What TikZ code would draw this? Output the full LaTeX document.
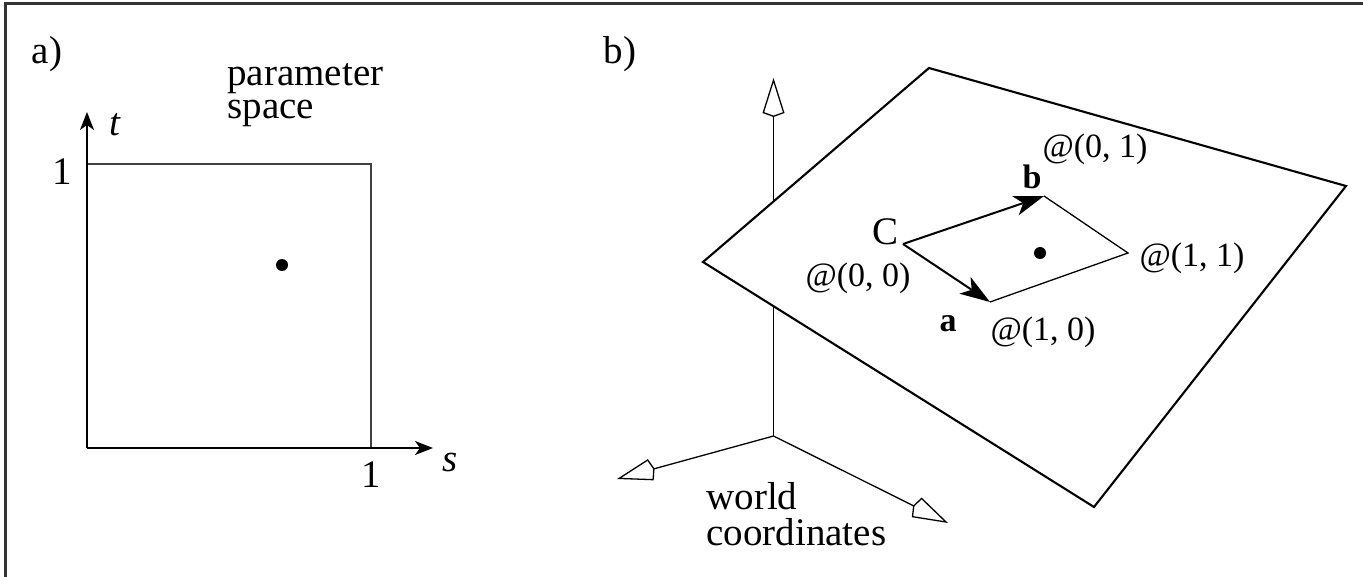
\documentclass[tikz,border=0pt]{standalone}
\usepackage{fontspec}
\setmainfont{Liberation Serif}
\usetikzlibrary{arrows.meta}
\begin{document}
\begin{tikzpicture}[x=0.5pt,y=-0.5pt,
  lbl/.style={font=\fontsize{17}{20}\selectfont, inner sep=0pt},
  txt/.style={font=\fontsize{19.5}{20}\selectfont, inner sep=0pt},
  frameline/.style={line width=1.2pt, draw=black!80},
  sqline/.style={line width=0.7pt, draw=black!75},
  axis2d/.style={line width=0.8pt, -{Stealth[length=9pt,width=7pt,inset=2.5pt]}},
  waxis/.style={line width=0.65pt, -{Kite[open,length=19.5pt,width=11pt,inset=2pt]}},
  planeline/.style={line width=1.05pt, line join=miter, fill=white},
  thinedge/.style={line width=0.65pt},
  vec/.style={line width=1pt, -{Stealth[length=15pt,width=10pt,inset=4pt]}},
  pt/.style={circle, fill=black, inner sep=0pt, minimum size=6pt}]
\useasboundingbox (0,0) rectangle (1363,577);
% frame
\coordinate (F1) at (5.5,577);
\coordinate (F2) at (5.5,3.5);
\coordinate (F3) at (1363,3.5);
\draw[frameline] (F1) -- (F2) -- (F3);

% ---------- a) parameter space ----------
\node[txt] (la) at (47,54) {a)};
\node[txt, align=left, anchor=base west, font=\fontsize{19.5}{16.5}\selectfont] (param) at (227,119) {parameter\\space};
\coordinate (O1) at (87,448);
\coordinate (T) at (87,112);
\coordinate (S) at (433,448);
\coordinate (Q1) at (87,164);
\coordinate (Q2) at (371,164);
\coordinate (Q3) at (371,448);
\draw[sqline] (Q1) -- (Q2) -- (Q3);
\draw[axis2d] (O1) -- (T);
\draw[axis2d] (O1) -- (S);
\node[txt] (onet) at (62,172) {1};
\node[txt] (ones) at (371,475) {1};
\node[txt] (tl) at (115,125) {\textit{t}};
\node[txt] (sl) at (450,462) {\textit{s}};
\node[pt] (dot1) at (282,265) {};

% ---------- b) world coordinates ----------
\node[txt] (lb) at (620,54) {b)};
\coordinate (W) at (773.5,436);
\coordinate (Wz) at (773.5,78);
\coordinate (Wx) at (617,479);
\coordinate (Wy) at (948,523);
\draw[waxis] (W) -- (Wz);
\draw[waxis] (W) -- (Wx);
\draw[waxis] (W) -- (Wy);
\node[txt, align=left, anchor=base west, font=\fontsize{19.5}{18}\selectfont] (world) at (706,545) {world\\coordinates};

\coordinate (P1) at (929,68);
\coordinate (P2) at (1346,186);
\coordinate (P3) at (1094,507);
\coordinate (P4) at (703,262);
\draw[planeline] (P1) -- (P2) -- (P3) -- (P4) -- cycle;

\coordinate (C) at (903,244);
\coordinate (A10) at (990,302);
\coordinate (A11) at (1128,253);
\coordinate (A01) at (1044,196);
\draw[thinedge] (A01) -- (A11) -- (A10);
\draw[vec] (C) -- (A10);
\draw[vec] (C) -- (A01);
\node[pt] (dot2) at (1040,253) {};

\node[txt] (cl) at (885,232) {C};
\node[lbl] (l00) at (858,278) {@(0, 0)};
\node[lbl] (la2) at (948,324) {\textbf{a}};
\node[lbl] (l10) at (1043,332) {@(1, 0)};
\node[lbl] (lb2) at (1032,177) {\textbf{b}};
\node[lbl] (l01) at (1095,149) {@(0, 1)};
\node[lbl] (l11) at (1192,258) {@(1, 1)};
\end{tikzpicture}
\end{document}
